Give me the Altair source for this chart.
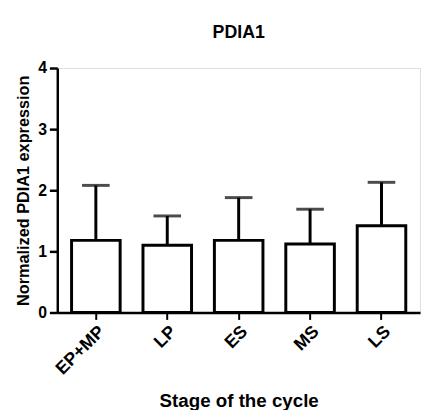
import altair as alt
import pandas as pd

stages = ["EP+MP", "LP", "ES", "MS", "LS"]
means = [1.18, 1.10, 1.18, 1.12, 1.42]
upper = [2.08, 1.58, 1.88, 1.69, 2.13]

df = pd.DataFrame({"stage": stages, "mean": means, "upper": upper})

FONT = "Liberation Sans"

x = alt.X(
    "stage:N",
    sort=stages,
    scale=alt.Scale(paddingInner=0.32, paddingOuter=0.2),
    axis=alt.Axis(
        title="Stage of the cycle",
        labelAngle=-45,
        labelAlign="right",
        labelBaseline="top",
        labelFontSize=18,
        labelFontWeight="bold",
        labelFont=FONT,
        labelColor="black",
        titleFontSize=19,
        titleFontWeight="bold",
        titleFont=FONT,
        titleColor="black",
        titlePadding=14,
        tickSize=7,
        tickWidth=2,
        tickColor="black",
        domainColor="black",
        domainWidth=2.5,
        labelPadding=3,
    ),
)

y_scale = alt.Scale(domain=[0, 4], nice=False)
y_axis = alt.Axis(
    title="Normalized PDIA1 expression",
    values=[0, 1, 2, 3, 4],
    format="d",
    grid=False,
    labelFontSize=16,
    labelFontWeight="bold",
    labelFont=FONT,
    labelColor="black",
    titleFontSize=16.5,
    titleFontWeight="bold",
    titleFont=FONT,
    titleColor="black",
    titlePadding=6,
    tickSize=8,
    tickWidth=2.5,
    tickColor="black",
    domainColor="black",
    domainWidth=2.5,
    labelPadding=3,
)

bars = alt.Chart(df).mark_bar(fill="white", stroke="black", strokeWidth=3).encode(
    x=x,
    y=alt.Y("mean:Q", scale=y_scale, axis=y_axis),
)

err = alt.Chart(df).mark_rule(color="black", strokeWidth=3).encode(
    x=alt.X("stage:N", sort=stages),
    y=alt.Y("mean:Q"),
    y2="upper:Q",
)

caps = alt.Chart(df).mark_tick(color="black", size=28, thickness=3).encode(
    x=alt.X("stage:N", sort=stages),
    y=alt.Y("upper:Q"),
)

chart = (
    alt.layer(bars, err, caps)
    .properties(
        width=368,
        height=248,
        title=alt.TitleParams(
            "PDIA1", fontSize=18, fontWeight="bold", font=FONT, color="black", offset=18
        ),
        autosize=alt.AutoSizeParams(type="none"),
        padding={"left": 50, "top": 58, "right": 4, "bottom": 96},
    )
    .configure_view(stroke=None)
    .configure(background="white")
)

chart.save("out.html", embed_options={"renderer": "svg", "actions": False})
